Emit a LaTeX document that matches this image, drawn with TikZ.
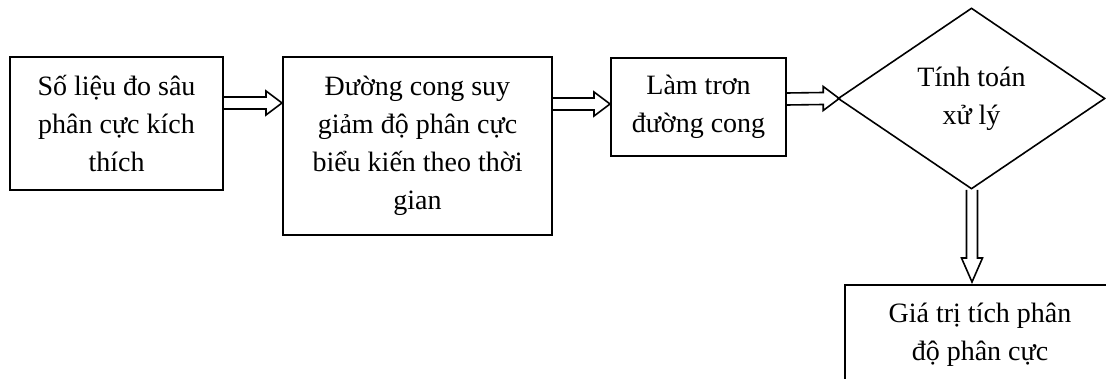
\documentclass[tikz,border=0pt]{standalone}
\usepackage{fontspec}
\setmainfont{Liberation Serif}
\usetikzlibrary{calc,shapes.geometric}

\tikzset{
  txt/.style={align=center, font={\fontsize{28}{38}\selectfont}, inner sep=0pt},
  stepbox/.style={txt, draw, line width=2pt, rectangle},
  decision/.style={txt, draw, line width=1.6pt, diamond, aspect=1.475},
  barrow/.style={draw, line width=1.6pt, line join=miter}
}

% hollow block arrow: #1 tail point, #2 tip point (horizontal)
\newcommand\hblockarrow[2]{%
  \draw[barrow] ($(#1)+(0,-6)$) -- ($(#2)+(-16,-6)$) -- ($(#2)+(-16,-12)$)
    -- (#2) -- ($(#2)+(-16,12)$) -- ($(#2)+(-16,6)$) -- ($(#1)+(0,6)$);}
% hollow block arrow pointing down: #1 tail point, #2 tip point
\newcommand\vblockarrow[2]{%
  \draw[barrow] ($(#1)+(-5.5,0)$) -- ($(#2)+(-5.5,-24)$) -- ($(#2)+(-10.5,-24)$)
    -- (#2) -- ($(#2)+(10.5,-24)$) -- ($(#2)+(5.5,-24)$) -- ($(#1)+(5.5,0)$);}

\begin{document}
\begin{tikzpicture}[x=1pt, y=-1pt]
  \clip (0,0) rectangle (1106,379);
  \fill[white] (0,0) rectangle (1106,379);

  \node[stepbox, minimum width=213pt, minimum height=133pt] (b1) at (116.5,123.5)
    {Số liệu đo sâu\\phân cực kích\\thích};
  \node[stepbox, minimum width=269pt, minimum height=178pt] (b2) at (417.5,146)
    {Đường cong suy\\giảm độ phân cực\\biểu kiến theo thời\\gian};
  \node[stepbox, minimum width=175pt, minimum height=98pt] (b3) at (698.5,107)
    {Làm trơn\\đường cong};
  \node[decision, minimum width=267pt, minimum height=181pt] (d) at (971.5,98.5)
    {Tính toán\\xử lý};
  \node[stepbox, minimum width=270pt, minimum height=100pt] (b5) at (980,335)
    {Giá trị tích phân\\độ phân cực};

  \coordinate (a1s) at (b1.east |- 0,103);
  \coordinate (a1e) at (b2.west |- 0,103);
  \coordinate (a2s) at (b2.east |- 0,104);
  \coordinate (a2e) at (b3.west |- 0,104);
  \coordinate (a3s) at (b3.east |- 0,99);
  \coordinate (a3e) at ($(d.west)+(2,0)$);
  \coordinate (a4e) at ($(b5.north)+(-8,-2)$);
  \coordinate (a4s) at (d.south -| a4e);

  \hblockarrow{a1s}{a1e}
  \hblockarrow{a2s}{a2e}
  \hblockarrow{a3s}{a3e}
  \vblockarrow{a4s}{a4e}
\end{tikzpicture}
\end{document}
